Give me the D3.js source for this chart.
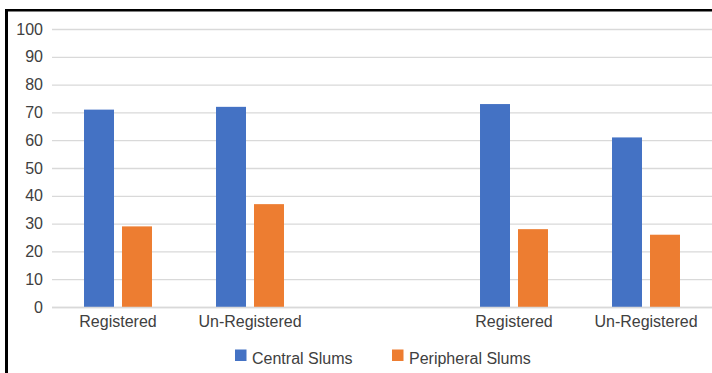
<!DOCTYPE html>
<html>
<head>
<meta charset="utf-8">
<script src="https://cdn.jsdelivr.net/npm/d3@7/dist/d3.min.js"></script>
<style>
  html, body { margin: 0; padding: 0; background: #fff; }
  svg { display: block; font-family: "Liberation Sans", Arial, sans-serif; }
</style>
</head>
<body>
<svg id="chart" width="712" height="373"></svg>
<script>
// Category slots along the x axis (the empty slot separates the two groups)
const categories = ["Registered", "Un-Registered", "", "Registered", "Un-Registered"];
const seriesNames = ["Central Slums", "Peripheral Slums"];
const centralSlums = [71, 72, null, 73, 61];
const peripheralSlums = [29, 37, null, 28, 26];
const yTicks = [0, 10, 20, 30, 40, 50, 60, 70, 80, 90, 100];
const colors = ["#4472C4", "#ED7D31"];

const svg = d3.select("#chart");
const W = 712, H = 373;
const plot = { left: 52, right: 712, top: 29, bottom: 307 };
const textColor = "#404040";
const gridColor = "#d9d9d9";

// Frame (left and top edges)
svg.append("line").attr("x1", 6.5).attr("x2", 6.5).attr("y1", 9).attr("y2", H)
  .attr("stroke", "#000").attr("stroke-width", 3);
svg.append("line").attr("x1", 5).attr("x2", W).attr("y1", 10.3).attr("y2", 10.3)
  .attr("stroke", "#000").attr("stroke-width", 2.5);

const slots = d3.range(categories.length);
const x0 = d3.scaleBand().domain(slots).range([plot.left, plot.right])
  .paddingInner(0.485).paddingOuter(0.2425);
const x1 = d3.scaleBand().domain(d3.range(seriesNames.length)).range([0, x0.bandwidth()])
  .paddingInner(8 / 38).paddingOuter(0);
const y = d3.scaleLinear().domain([0, 100]).range([plot.bottom, plot.top]);

// Gridlines and y tick labels
const yAxis = d3.axisLeft(y).tickValues(yTicks).tickSize(-(plot.right - plot.left)).tickPadding(9);
const gy = svg.append("g").attr("transform", `translate(${plot.left},0)`).call(yAxis);
gy.select(".domain").remove();
gy.selectAll(".tick line").attr("stroke", gridColor).attr("stroke-width", 1.3);
gy.selectAll(".tick text").attr("fill", textColor).style("font-size", "16px")
  .style("font-family", "'Liberation Sans', Arial, sans-serif");

// Bars
const series = [centralSlums, peripheralSlums];
series.forEach((vals, si) => {
  svg.append("g").selectAll("rect")
    .data(slots.filter(i => vals[i] != null))
    .join("rect")
    .attr("x", i => x0(i) + x1(si))
    .attr("width", x1.bandwidth())
    .attr("y", i => y(vals[i]))
    .attr("height", i => y(0) - y(vals[i]))
    .attr("fill", colors[si]);
});

// X axis line and category labels
const xAxis = d3.axisBottom(x0).tickSize(0).tickPadding(9).tickFormat(i => categories[i]);
const gx = svg.append("g").attr("transform", `translate(0,${plot.bottom})`).call(xAxis);
gx.select(".domain").attr("stroke", gridColor).attr("stroke-width", 1.3)
  .attr("d", `M${plot.left},0.5H${plot.right}`);
gx.selectAll(".tick text").attr("fill", textColor).style("font-size", "16px")
  .style("font-family", "'Liberation Sans', Arial, sans-serif");

// Legend
const legendX = [235, 392];
const lg = svg.append("g");
seriesNames.forEach((name, i) => {
  lg.append("rect").attr("x", legendX[i]).attr("y", 349.5).attr("width", 11.5).attr("height", 11.5)
    .attr("fill", colors[i]);
  lg.append("text").attr("x", legendX[i] + 17).attr("y", 364).attr("fill", textColor)
    .style("font-size", "16px").text(name);
});
</script>
</body>
</html>
